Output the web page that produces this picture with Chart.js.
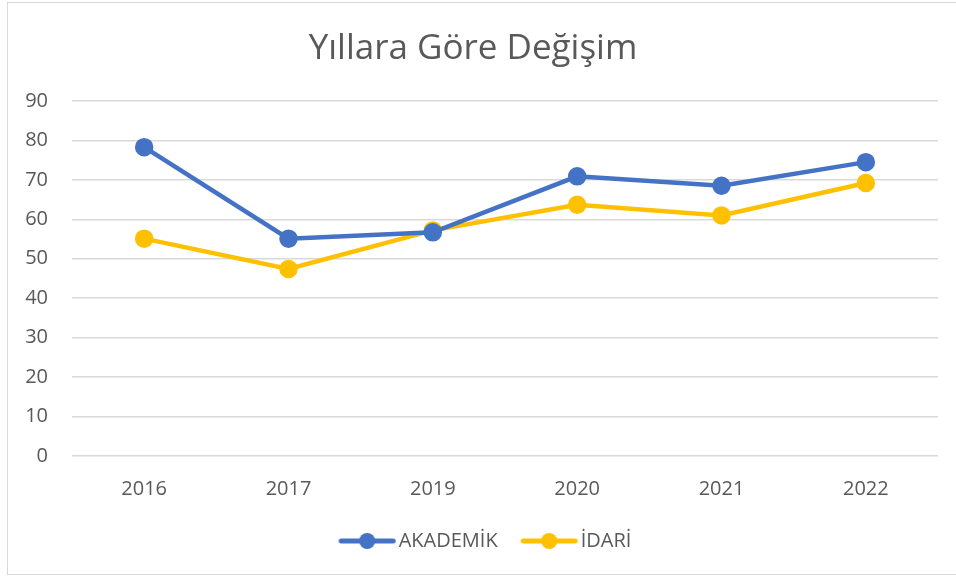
<!DOCTYPE html>
<html>
<head>
  <title>Yıllara Göre Değişim</title>
  <script src="https://cdn.jsdelivr.net/npm/chart.js"></script>
  <style>
    body {
      margin: 0;
      background: #fff;
      overflow: hidden;
    }

    #box {
      position: absolute;
      left: 7px;
      top: 2px;
      width: 960px;
      height: 573px;
      border: 1px solid #d9d9d9;
      box-sizing: border-box;
    }

    #wrap {
      position: absolute;
      left: 8px;
      top: 3px;
      width: 948px;
      height: 572px;
    }
  </style>
</head>
<body>
  <div id="box"></div>
  <div id="wrap">
    <canvas id="lineChart"></canvas>
  </div>

  <script>
    const years = ["2016", "2017", "2019", "2020", "2021", "2022"];
    const akademik = [78.3, 55.1, 56.7, 70.9, 68.5, 74.5];
    const idari = [55.1, 47.4, 57.2, 63.7, 61.0, 69.2];

    // line-with-dot swatch for the legend (blank strip on the left widens the gap between items)
    function swatch(color) {
      const c = document.createElement("canvas");
      c.width = 72;
      c.height = 18;
      const g = c.getContext("2d");
      g.strokeStyle = color;
      g.lineWidth = 5;
      g.lineCap = "round";
      g.beginPath();
      g.moveTo(16.5, 9);
      g.lineTo(68.5, 9);
      g.stroke();
      g.fillStyle = color;
      g.beginPath();
      g.arc(42.5, 9, 8, 0, Math.PI * 2);
      g.fill();
      return c;
    }

    // nudge the legend a little to the right, where the original sits
    const legendShift = {
      id: "legendShift",
      afterLayout(chart) {
        chart.legend.left += 9;
        chart.legend.right += 9;
      },
    };

    const font = "'Open Sans', 'Liberation Sans', sans-serif";
    const grey = "#595959";

    new Chart(document.getElementById("lineChart"), {
      type: "line",
      data: {
        labels: years,
        datasets: [
          {
            label: "AKADEMİK",
            data: akademik,
            borderColor: "#4472C4",
            backgroundColor: "#4472C4",
            borderWidth: 4.5,
            pointRadius: 7,
            pointHoverRadius: 7,
            tension: 0,
          },
          {
            label: "İDARİ",
            data: idari,
            borderColor: "#FFC000",
            backgroundColor: "#FFC000",
            borderWidth: 4.5,
            pointRadius: 7,
            pointHoverRadius: 7,
            tension: 0,
          },
        ],
      },
      options: {
        responsive: true,
        maintainAspectRatio: false,
        animation: false,
        layout: {
          padding: { left: 0, right: 18, top: 10, bottom: 14 },
        },
        plugins: {
          title: {
            display: true,
            text: "Yıllara Göre Değişim",
            color: grey,
            font: { family: font, size: 35, weight: "normal" },
            padding: { top: 15, bottom: 31 },
          },
          legend: {
            position: "bottom",
            labels: {
              color: grey,
              font: { family: font, size: 20 },
              usePointStyle: true,
              pointStyleWidth: 56,
              padding: 17,
              generateLabels: chart =>
                chart.data.datasets.map((ds, i) => ({
                  text: ds.label,
                  fontColor: grey,
                  pointStyle: swatch(ds.borderColor),
                  datasetIndex: i,
                  lineWidth: 0,
                  strokeStyle: "transparent",
                  fillStyle: "transparent",
                })),
            },
          },
          tooltip: { enabled: false },
        },
        scales: {
          x: {
            offset: true,
            grid: { display: false },
            border: { display: false },
            ticks: {
              color: grey,
              font: { family: font, size: 20 },
              padding: 13,
            },
          },
          y: {
            min: 0,
            max: 90,
            afterFit: scale => {
              scale.width = 64;
            },
            ticks: {
              stepSize: 10,
              color: grey,
              font: { family: font, size: 20 },
              padding: 24,
            },
            grid: {
              color: "#d9d9d9",
              lineWidth: 1.5,
              drawTicks: false,
            },
            border: { display: false },
          },
        },
      },
      plugins: [legendShift],
    });
  </script>
</body>
</html>
